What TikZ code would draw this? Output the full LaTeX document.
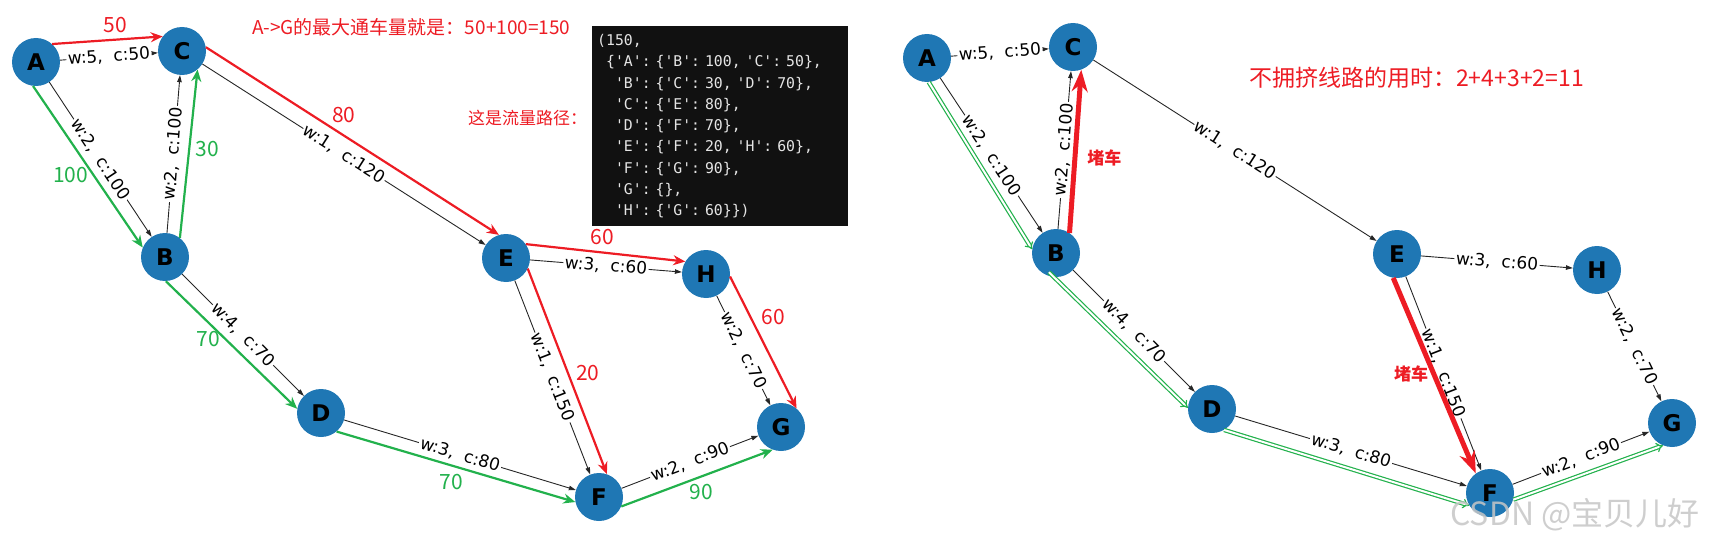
\documentclass[tikz,border=0pt]{standalone}
\usepackage{fontspec}
\setmainfont{DejaVu Sans}
\newfontfamily\cjk{Noto Sans CJK SC}
\newfontfamily\codefont{DejaVu Sans Mono}
\usetikzlibrary{arrows.meta}
\definecolor{nodeblue}{HTML}{1F77B4}
\definecolor{flowred}{HTML}{ED1C24}
\definecolor{flowgreen}{HTML}{22B14C}
\definecolor{codebg}{HTML}{111111}
\newcommand\sq{\char39\relax}
\newcommand\lb{\char123\relax}
\newcommand\rb{\char125\relax}

\begin{document}
\begin{tikzpicture}[
    x=1pt, y=-1pt,
    vertex/.style={circle, fill=nodeblue, minimum size=48pt, inner sep=0pt, font=\fontsize{23}{23}\selectfont\bfseries},
    link/.style={-{Triangle[length=7pt, width=4.5pt]}, line width=0.9pt, draw=black!85},
    elabel/.style={sloped, fill=white, inner sep=1.5pt, font=\fontsize{17}{17}\selectfont},
    redflow/.style={-{Stealth[length=12pt, width=10pt]}, line width=2.2pt, flowred},
    greenflow/.style={-{Stealth[length=12pt, width=10pt]}, line width=2.2pt, flowgreen},
    jam/.style={-{Stealth[length=22pt, width=16pt]}, line width=5pt, flowred},
    freeway/.style={-{Implies[length=7pt, width=12pt]}, draw=flowgreen, double=white, double distance=2pt, line width=1.2pt},
    flownum/.style={inner sep=2pt, font=\cjk\fontsize{21}{21}\selectfont},
    jamtext/.style={inner sep=2pt, font=\cjk\fontsize{17}{17}\selectfont\bfseries},
    note/.style={anchor=west, inner sep=0pt, text=flowred, font=\cjk\fontsize{17}{17}\selectfont},
    codebox/.style={anchor=north west, fill=codebg, text=white!90!black, font=\codefont\fontsize{14.8}{21.25}\selectfont,
      text width=246pt, align=left, inner xsep=5pt, inner ysep=0pt, minimum height=200pt}
]
\useasboundingbox (0,0) rectangle (1709,543);

\foreach \g/\dx/\dy in {l/0/0, r/891/-4} {
  \begin{scope}[shift={(\dx,\dy)}, name prefix=\g-]
    \node (A) [vertex] at (36,62) {A};
    \node (C) [vertex] at (182,51) {C};
    \node (B) [vertex] at (165,257) {B};
    \node (E) [vertex] at (506,258) {E};
    \node (H) [vertex] at (706,274) {H};
    \node (D) [vertex] at (321,413) {D};
    \node (F) [vertex] at (599,497) {F};
    \node (G) [vertex] at (781,427) {G};
    \foreach \p/\q/\wt/\cp in {A/C/5/50, A/B/2/100, B/C/2/100, C/E/1/120, B/D/4/70,
                               E/H/3/60, E/F/1/150, H/G/2/70, D/F/3/80, F/G/2/90}
      \draw [link] (\p) -- node [elabel] {w:\wt,~~c:\cp} (\q);
  \end{scope}
}

\draw [redflow] (l-A.48) -- node [flownum, pos=.57, above=4pt] {50} (l-C.143);
\draw [redflow] (l-C.9) -- node [flownum, pos=.42, anchor=south west] {80} (l-E.107);
\draw [greenflow] (l-A.-97) -- node [flownum, pos=.55, left=2pt] {100} (l-B.157);
\draw [greenflow] (l-B.52) -- node [flownum, pos=.53, right=3pt] {30} (l-C.-50);
\draw [redflow] (l-E.35) -- node [flownum, pos=.48, above=5pt] {60} (l-H.149);
\draw [redflow] (l-E.-26) -- node [flownum, pos=.51, right=5pt] {20} (l-F.71);
\draw [redflow] (l-H.-6) -- node [flownum, pos=.31, right=8pt] {60} (l-G.50);
\draw [greenflow] (l-B.-88) -- node [flownum, pos=.45, left=2pt] {70} (l-D.170);
\draw [greenflow] (l-D.-50) -- node [flownum, pos=.48, below=6pt] {70} (l-F.-168);
\draw [greenflow] (l-F.-23) -- node [flownum, pos=.53, below=5pt] {90} (l-G.-110);

\node (maxflow) [note, font=\cjk\fontsize{19}{19}\selectfont] at (252,27) {A->G的最大通车量就是：50+100=150};
\node (pathtitle) [note] at (468,118) {这是流量路径：};
\node (code) [codebox] at (592,26) {(150,\\
\hphantom{x}\lb\sq A\sq:~\lb\sq B\sq:~100,~\sq C\sq:~50\rb,\\
\hphantom{xx}\sq B\sq:~\lb\sq C\sq:~30,~\sq D\sq:~70\rb,\\
\hphantom{xx}\sq C\sq:~\lb\sq E\sq:~80\rb,\\
\hphantom{xx}\sq D\sq:~\lb\sq F\sq:~70\rb,\\
\hphantom{xx}\sq E\sq:~\lb\sq F\sq:~20,~\sq H\sq:~60\rb,\\
\hphantom{xx}\sq F\sq:~\lb\sq G\sq:~90\rb,\\
\hphantom{xx}\sq G\sq:~\lb\rb,\\
\hphantom{xx}\sq H\sq:~\lb\sq G\sq:~60\rb\rb)};

\draw [jam] (r-B.56) -- node [jamtext, pos=.46, right=8pt] {堵车} (r-C.-70);
\draw [jam] (r-E.-99) -- node [jamtext, pos=.49, left=1pt] {堵车} (r-F.126);
\draw [freeway] (r-A.-86) -- (r-B.171);
\draw [freeway, shorten <=-7pt] (r-B.-95) -- (r-D.177);
\draw [freeway] (r-D.-60) -- (r-F.211);
\draw [freeway] (r-F.-16) -- (r-G.-112);

\node (freetime) [note, font=\cjk\fontsize{23}{23}\selectfont] at (1249,78) {不拥挤线路的用时：2+4+3+2=11};
\node (mark) [text=gray!45, opacity=.85, font=\cjk\fontsize{32}{32}\selectfont] at (1575,515) {CSDN @宝贝儿好};
\end{tikzpicture}
\end{document}
